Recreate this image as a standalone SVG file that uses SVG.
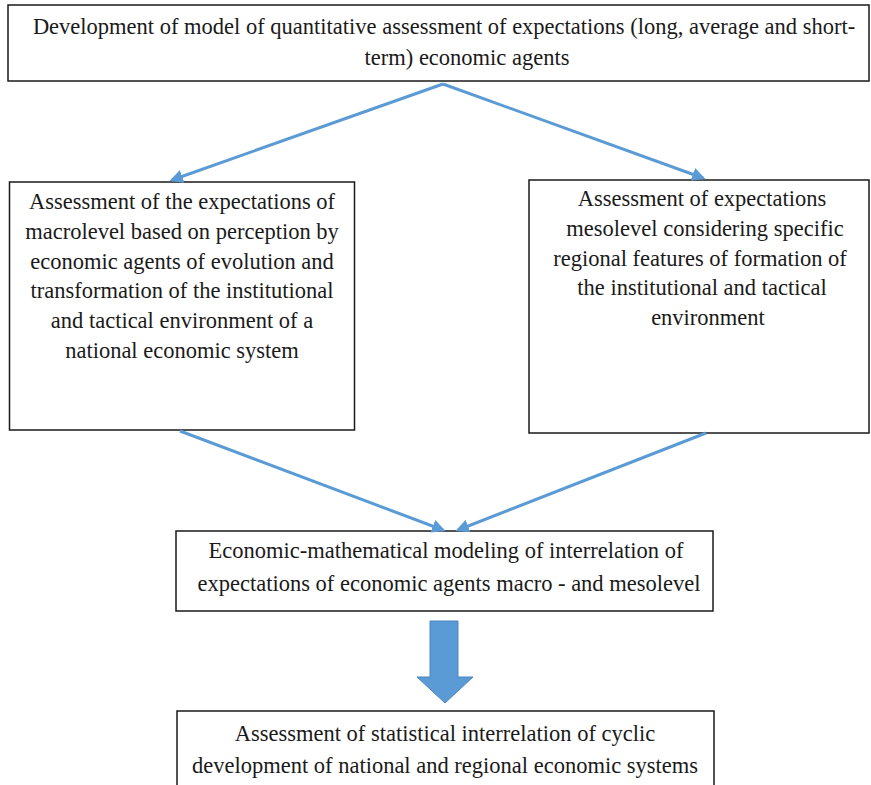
<svg xmlns="http://www.w3.org/2000/svg" width="871" height="785" viewBox="0 0 871 785">
<style>
.box{fill:#fff;stroke:#1a1a1a;stroke-width:1.5}
.t{font-family:"Liberation Serif","Times New Roman",serif;font-size:22.5px;fill:#1a1a1a;text-anchor:middle}
.c{stroke:#5B9BD5;stroke-width:3;fill:none;marker-end:url(#ah)}
</style>
<defs>
<marker id="ah" viewBox="0 0 10 10" refX="8" refY="5" markerWidth="4.5" markerHeight="4.5" orient="auto" markerUnits="strokeWidth">
<path d="M0,0 L10,5 L0,10 z" fill="#5B9BD5"/>
</marker>
</defs>
<rect width="871" height="785" fill="#fff"/>
<g id="n1">
<rect class="box" x="8" y="5" width="861" height="76"/>
<text class="t" x="444" y="34">Development of model of quantitative assessment of expectations (long, average and short-</text>
<text class="t" x="467" y="65">term) economic agents</text>
</g>
<g id="n2">
<rect class="box" x="9.5" y="182" width="345" height="248"/>
<text class="t" x="182" y="209">Assessment of the expectations of</text>
<text class="t" x="182" y="239">macrolevel based on perception by</text>
<text class="t" x="182" y="269">economic agents of evolution and</text>
<text class="t" x="182" y="298">transformation of the institutional</text>
<text class="t" x="182" y="328">and tactical environment of a</text>
<text class="t" x="182" y="358">national economic system</text>
</g>
<g id="n3">
<rect class="box" x="529" y="180" width="340" height="253"/>
<text class="t" x="702" y="206">Assessment of expectations</text>
<text class="t" x="705" y="236">mesolevel  considering specific</text>
<text class="t" x="700" y="266">regional features of formation of</text>
<text class="t" x="702" y="295">the institutional and tactical</text>
<text class="t" x="708" y="325">environment</text>
</g>
<g id="n4">
<rect class="box" x="176" y="531" width="537" height="80"/>
<text class="t" x="446" y="558">Economic-mathematical modeling of interrelation of</text>
<text class="t" x="449" y="591">expectations of economic agents macro - and  mesolevel</text>
</g>
<g id="n5">
<rect class="box" x="177" y="711" width="537" height="80"/>
<text class="t" x="445" y="741">Assessment of statistical interrelation of cyclic</text>
<text class="t" x="445" y="773">development of national and regional economic systems</text>
</g>
<g id="connectors">
<path class="c" d="M443,84 L172,180"/>
<path class="c" d="M443,84 L703,178"/>
<path class="c" d="M180,431 L443,530"/>
<path class="c" d="M706,433 L458,530"/>
<path d="M430,621 L458,621 L458,677 L473,677 L445,703 L417,677 L430,677 z" fill="#5B9BD5" stroke="#4A86BE" stroke-width="1"/>
</g>
</svg>
